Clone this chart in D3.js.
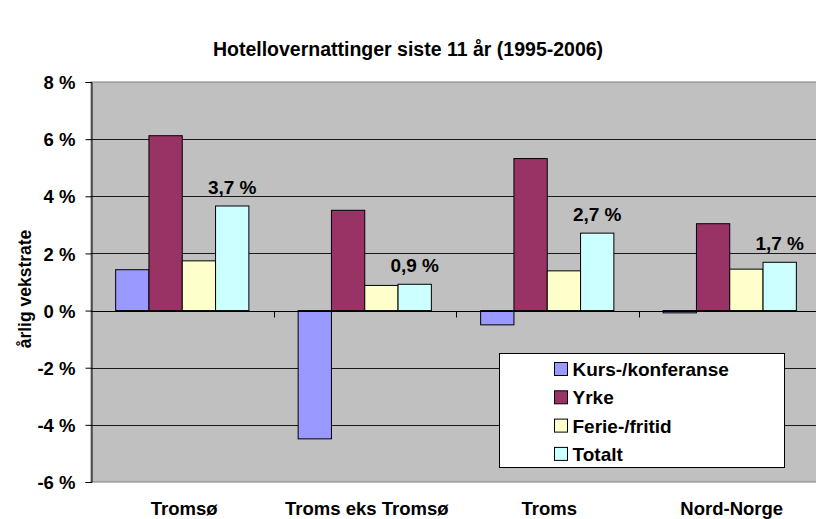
<!DOCTYPE html>
<html>
<head>
<meta charset="utf-8">
<script src="https://cdn.jsdelivr.net/npm/d3@7"></script>
<style>
  body { margin: 0; background: #fff; }
  svg text { font-family: "Liberation Sans", Arial, sans-serif; font-weight: bold; fill: #000; }
</style>
</head>
<body>
<div id="vis"></div>
<script>
// data
var categories = ["Tromsø", "Troms eks Tromsø", "Troms", "Nord-Norge"];
var series = ["Kurs-/konferanse", "Yrke", "Ferie-/fritid", "Totalt"];
var kurs = [1.43, -4.49, -0.5, -0.08];
var yrke = [6.12, 3.51, 5.32, 3.04];
var ferie = [1.74, 0.88, 1.39, 1.45];
var totalt = [3.66, 0.92, 2.71, 1.69];
var yTicks = [-6, -4, -2, 0, 2, 4, 6, 8];
var colors = ["#9999ff", "#993366", "#ffffcc", "#ccffff"];

var values = [kurs, yrke, ferie, totalt];

var width = 816, height = 519;
var plot = {left: 91, right: 821, top: 82, bottom: 482};

var svg = d3.select("#vis").append("svg")
    .attr("width", width)
    .attr("height", height);

var x0 = d3.scaleBand().domain(categories).range([plot.left, plot.right]).padding(0);
var x1 = d3.scaleBand().domain(series).range([0, x0.bandwidth()]).paddingInner(0).paddingOuter(0.74);
var y = d3.scaleLinear().domain([-6, 8]).range([plot.bottom, plot.top]);

// plot background
svg.append("rect")
    .attr("x", plot.left).attr("y", plot.top)
    .attr("width", plot.right - plot.left).attr("height", plot.bottom - plot.top)
    .attr("fill", "#c0c0c0")
    .attr("stroke", "#808080");

// gridlines
svg.append("g")
  .selectAll("line")
  .data(yTicks.filter(function(d) { return d != -6 && d != 8; }))
  .enter().append("line")
    .attr("x1", plot.left).attr("x2", plot.right)
    .attr("y1", function(d) { return Math.round(y(d)) + 0.5; })
    .attr("y2", function(d) { return Math.round(y(d)) + 0.5; })
    .attr("stroke", "#1a1a1a");

// title
svg.append("text")
    .attr("x", 408).attr("y", 56)
    .attr("text-anchor", "middle")
    .style("font-size", "19.5px")
    .text("Hotellovernattinger siste 11 år (1995-2006)");

// bars
var rows = [];
categories.forEach(function(c, i) {
  series.forEach(function(s, j) {
    rows.push({cat: c, ser: s, val: values[j][i], color: colors[j]});
  });
});

svg.append("g").selectAll("rect")
  .data(rows)
  .enter().append("rect")
    .attr("x", function(d) { return x0(d.cat) + x1(d.ser); })
    .attr("y", function(d) { return y(Math.max(0, d.val)); })
    .attr("width", x1.bandwidth())
    .attr("height", function(d) { return Math.abs(y(d.val) - y(0)); })
    .attr("fill", function(d) { return d.color; })
    .attr("stroke", "#000")
    .attr("stroke-width", 1);

// zero line with category ticks
var zeroY = Math.round(y(0)) + 0.5;
svg.append("line")
    .attr("x1", plot.left).attr("x2", plot.right)
    .attr("y1", zeroY).attr("y2", zeroY)
    .attr("stroke", "#000");

svg.append("g").selectAll("line")
  .data(categories.slice(1))
  .enter().append("line")
    .attr("x1", function(d) { return Math.round(x0(d)) + 0.5; })
    .attr("x2", function(d) { return Math.round(x0(d)) + 0.5; })
    .attr("y1", zeroY).attr("y2", zeroY + 6)
    .attr("stroke", "#000");

// category labels
svg.append("g").selectAll("text")
  .data(categories)
  .enter().append("text")
    .attr("x", function(d) { return x0(d) + x0.bandwidth() / 2 + 2; })
    .attr("y", 515)
    .attr("text-anchor", "middle")
    .style("font-size", "18.5px")
    .text(function(d) { return d; });

// y axis
var yAxis = svg.append("g")
    .attr("transform", "translate(" + (plot.left + 0.5) + ",0)")
    .call(d3.axisLeft(y).tickValues(yTicks).tickSize(6).tickPadding(10)
      .tickFormat(function(d) { return d + " %"; }));
yAxis.select(".domain").attr("stroke", "#000");
yAxis.selectAll(".tick line").attr("stroke", "#000");
yAxis.selectAll("text")
    .attr("dy", "0.36em")
    .style("font-size", "18.5px")
    .style("font-family", "'Liberation Sans', Arial, sans-serif")
    .style("font-weight", "bold");

svg.append("text")
    .attr("transform", "translate(31,289) rotate(-90)")
    .attr("text-anchor", "middle")
    .style("font-size", "17.5px")
    .text("årlig vekstrate");

// labels on Totalt bars
svg.append("g").selectAll("text")
  .data(categories)
  .enter().append("text")
    .attr("x", function(d) { return x0(d) + x1("Totalt") + x1.bandwidth() / 2; })
    .attr("y", function(d, i) { return y(totalt[i]) - 12; })
    .attr("text-anchor", "middle")
    .style("font-size", "19px")
    .text(function(d, i) { return d3.format(".1f")(totalt[i]).replace(".", ",") + " %"; });

// legend
var legend = svg.append("g").attr("transform", "translate(499.5,353.5)");
legend.append("rect")
    .attr("width", 285).attr("height", 114)
    .attr("fill", "#fff").attr("stroke", "#000");
var item = legend.selectAll(".item")
  .data(series)
  .enter().append("g")
    .attr("transform", function(d, i) { return "translate(55," + (15.5 + i * 28.3) + ")"; });
item.append("rect")
    .attr("x", 0).attr("y", -6.5)
    .attr("width", 13).attr("height", 13)
    .attr("fill", function(d, i) { return colors[i]; })
    .attr("stroke", "#000");
item.append("text")
    .attr("x", 18).attr("y", 7)
    .style("font-size", "19px")
    .text(function(d) { return d; });
</script>
</body>
</html>
